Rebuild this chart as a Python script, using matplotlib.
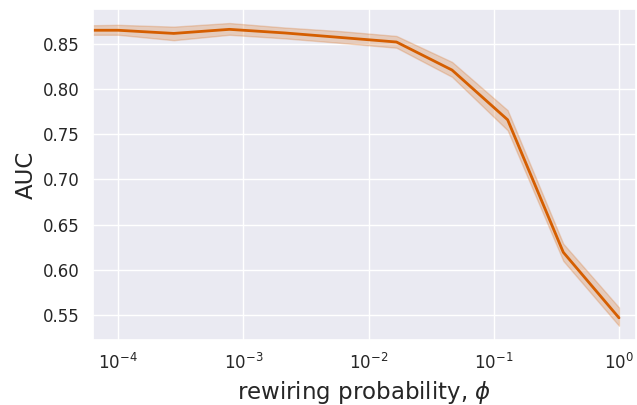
import matplotlib
matplotlib.use('Agg')
import matplotlib.pyplot as plt
import seaborn as sns

# rewiring probabilities (log-spaced) and AUC with confidence band
phi = [3.6e-5, 1.0e-4, 2.78e-4, 7.74e-4, 2.15e-3, 5.99e-3,
       1.67e-2, 4.64e-2, 0.129, 0.359, 1.0]
auc_mean = [0.865, 0.865, 0.8615, 0.866, 0.862, 0.857,
            0.852, 0.821, 0.766, 0.6195, 0.547]
auc_low = [0.860, 0.860, 0.854, 0.860, 0.856, 0.851,
           0.8457, 0.8135, 0.7544, 0.610, 0.5383]
auc_high = [0.870, 0.871, 0.869, 0.873, 0.868, 0.864,
            0.8587, 0.830, 0.7766, 0.629, 0.5585]

sns.set_theme(style='darkgrid')
plt.rcParams['font.family'] = ['DejaVu Sans']

color = '#d55e00'

fig, ax = plt.subplots(figsize=(6.37, 4.05), dpi=100)
fig.subplots_adjust(left=0.146, right=0.998, top=0.978, bottom=0.16)

# band with a faint outline, as seaborn draws it
ax.fill_between(phi, auc_low, auc_high, facecolor=color, edgecolor=color,
                alpha=0.22, lw=1)
ax.plot(phi, auc_mean, color=color, lw=2)

ax.set_xscale('log')
ax.set_xlim(6.3e-5, 1.36)
ax.set_ylim(0.5223, 0.8886)
ax.set_yticks([0.55, 0.60, 0.65, 0.70, 0.75, 0.80, 0.85])
ax.set_yticklabels(['0.55', '0.60', '0.65', '0.70', '0.75', '0.80', '0.85'])
ax.grid(False, which='minor')
ax.tick_params(labelsize=12)

ax.set_xlabel(r'rewiring probability, $\phi$', fontsize=16.5)
ax.set_ylabel('AUC', fontsize=16.5)

plt.savefig('out.png', dpi=100)
